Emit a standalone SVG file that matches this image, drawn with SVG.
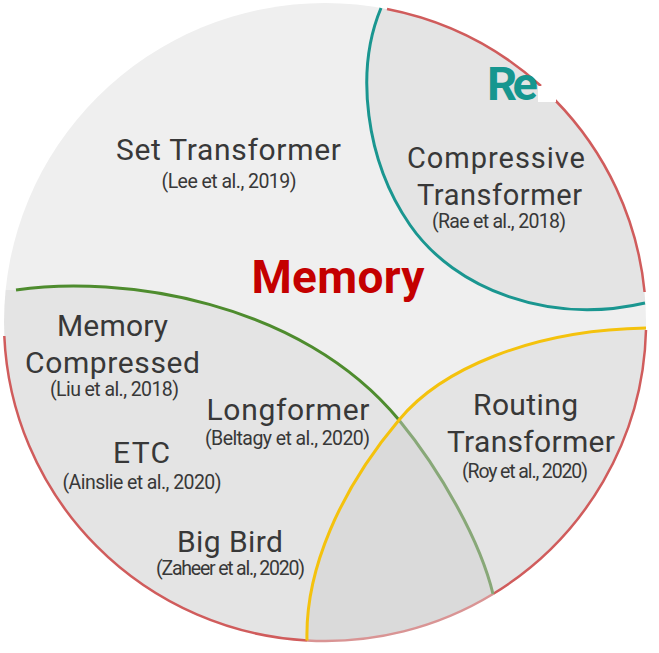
<svg xmlns="http://www.w3.org/2000/svg" width="659" height="653" viewBox="0 0 659 653">
<defs>
<clipPath id="cc"><ellipse cx="325" cy="322" rx="321" ry="319"/></clipPath>
<style>
.lbl{font-family:Roboto,"Liberation Sans",sans-serif;fill:#383838;text-anchor:middle}
.big{font-size:30px}
.cit{font-size:19.5px}
.reg{fill:#000;fill-opacity:0.045}
.arc{fill:none;stroke-width:3;stroke-linecap:butt}
.red{fill:none;stroke:#d05c5c;stroke-width:2.5}
</style>
</defs>
<rect width="659" height="653" fill="#ffffff"/>
<g id="circle">
<ellipse cx="325" cy="322" rx="321" ry="319" fill="#efefef"/>
<g clip-path="url(#cc)">
<path class="reg" d="M381,8 C355,70 365,160 410,225 C455,290 550,325 645,303 L700,303 L700,-20 L381,-20 Z"/>
<path class="reg" d="M16,290 C120,275 300,300 399,420 C440,470 480,540 493,594 L493,700 L-20,700 L-20,290 Z"/>
<path class="reg" d="M646,328 C530,330 440,370 399,420 C340,490 305,570 307,640.5 L307,700 L700,700 L700,328 Z"/>
</g>
</g>
<g id="connectors">
<path class="red" d="M387,9 A321 319 0 0 1 541,86"/>
<path class="red" d="M555,100 A321 319 0 0 1 644.6,292"/>
<path class="red" d="M646,330 A321 319 0 0 1 493,594"/>
<path class="red" style="stroke:#d99494" d="M493,594 A321 319 0 0 1 307,640.5"/>
<path class="red" d="M307,640.5 A321 319 0 0 1 4.3,336"/>
<path class="arc" stroke="#1a9690" d="M381,8 C355,70 365,160 410,225 C455,290 550,325 645,303"/>
<path class="arc" stroke="#4e8c2e" d="M16,290 C120,275 300,300 399,420"/>
<path class="arc" stroke="#88a878" d="M399,420 C440,470 480,540 493,594"/>
<path class="arc" stroke="#f4c20d" d="M646,328 C530,330 440,370 399,420 C340,490 305,570 307,640.5"/>
</g>
<rect x="538" y="86" width="18" height="16" fill="#ffffff"/>
<g id="memory">
<text x="338" y="293" font-family="Roboto,'Liberation Sans',sans-serif" font-weight="bold" font-size="46" fill="#c40000" text-anchor="middle" textLength="173">Memory</text>
</g>
<g id="recurrence">
<text x="487" y="100" font-family="Roboto,'Liberation Sans',sans-serif" font-weight="bold" font-size="47" fill="#16968f" textLength="51">Re</text>
</g>
<g id="set-transformer">
<text class="lbl big" x="228.5" y="160" textLength="225">Set Transformer</text>
<text class="lbl cit" x="229" y="188" textLength="135">(Lee et al., 2019)</text>
</g>
<g id="compressive-transformer">
<text class="lbl" font-size="29" x="496" y="168" textLength="178">Compressive</text>
<text class="lbl" font-size="29" x="499.5" y="205" textLength="165">Transformer</text>
<text class="lbl cit" x="499" y="228" textLength="134">(Rae et al., 2018)</text>
</g>
<g id="memory-compressed">
<text class="lbl big" x="112.5" y="336" textLength="111">Memory</text>
<text class="lbl big" x="112.5" y="373" textLength="175">Compressed</text>
<text class="lbl cit" x="114.5" y="396" textLength="129">(Liu et al., 2018)</text>
</g>
<g id="longformer">
<text class="lbl big" x="288" y="420" textLength="163">Longformer</text>
<text class="lbl cit" x="287.5" y="445" textLength="165">(Beltagy et al., 2020)</text>
</g>
<g id="etc">
<text class="lbl big" x="141.5" y="463" textLength="57">ETC</text>
<text class="lbl cit" x="142" y="489" textLength="159">(Ainslie et al., 2020)</text>
</g>
<g id="big-bird">
<text class="lbl big" x="230" y="552" textLength="106">Big Bird</text>
<text class="lbl cit" x="230.5" y="575" textLength="149">(Zaheer et al., 2020)</text>
</g>
<g id="routing-transformer">
<text class="lbl big" x="525.5" y="415" textLength="105">Routing</text>
<text class="lbl big" x="531" y="452" textLength="168">Transformer</text>
<text class="lbl cit" x="525" y="478" textLength="126">(Roy et al., 2020)</text>
</g>
</svg>
